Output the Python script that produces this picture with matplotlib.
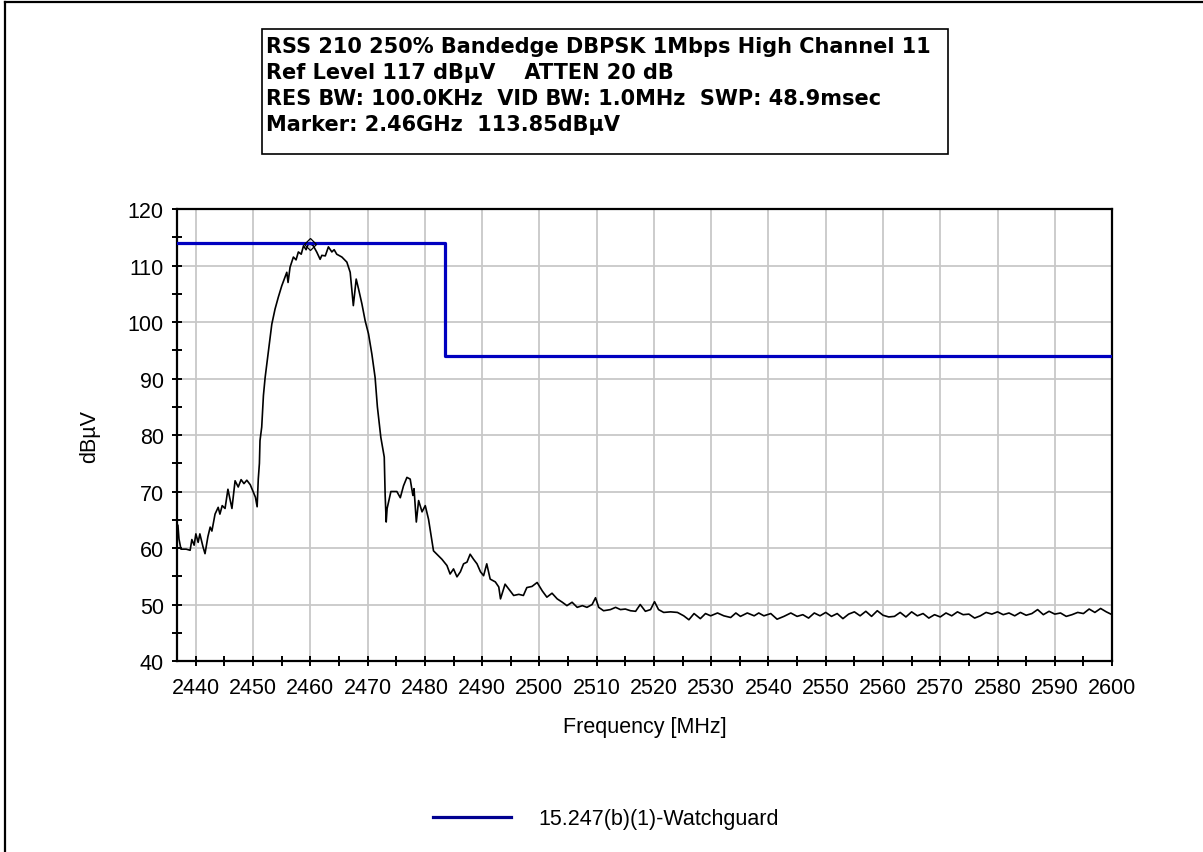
import matplotlib
matplotlib.use("Agg")
from matplotlib import pyplot as plt
from matplotlib.patches import Rectangle
from matplotlib.lines import Line2D
import numpy as np

freq_mhz = [
    2436.87, 2437.05, 2437.4, 2438.3, 2439.0, 2439.3, 2439.7, 2440.0, 2440.4, 2440.7,
    2441.25, 2441.6, 2442.1, 2442.5, 2442.8, 2443.35, 2443.9, 2444.2, 2444.6, 2445.1,
    2445.6, 2446.0, 2446.3, 2446.85, 2447.4, 2447.9, 2448.4, 2448.9, 2449.5, 2450.0,
    2450.4, 2450.7, 2450.9, 2451.1, 2451.2, 2451.5, 2451.8, 2452.1, 2452.66, 2453.26,
    2453.83, 2454.4, 2455.0, 2455.4, 2455.88, 2456.1, 2456.45, 2457.03, 2457.5, 2457.9,
    2458.4, 2458.8, 2459.25, 2459.65, 2460.0, 2460.5, 2461.1, 2461.7, 2462.0, 2462.6,
    2463.15, 2463.75, 2464.15, 2464.6, 2465.5, 2466.37, 2466.95, 2467.3, 2467.5, 2468.0,
    2468.4, 2469.0, 2469.57, 2470.15, 2470.74, 2471.3, 2471.7, 2472.3, 2472.9, 2473.06,
    2473.24, 2473.4, 2473.64, 2474.06, 2475.1, 2475.7, 2476.26, 2476.86, 2477.43, 2477.9,
    2478.1, 2478.5, 2478.9, 2479.5, 2480.06, 2480.63, 2480.9, 2481.5, 2482.1, 2482.98,
    2483.85, 2484.4, 2485.0, 2485.6, 2486.2, 2486.75, 2487.35, 2487.9, 2488.5, 2489.1,
    2489.7, 2490.25, 2490.8, 2491.4, 2492.3, 2492.9, 2493.2, 2494.0, 2494.9, 2495.5,
    2496.4, 2497.2, 2497.8, 2498.7, 2499.6, 2500.5, 2501.3, 2502.2, 2503.1, 2504.0,
    2504.8, 2505.7, 2506.6, 2507.5, 2508.3, 2509.2, 2509.8, 2510.35, 2511.2, 2512.4,
    2513.3, 2514.15, 2515.0, 2515.9, 2516.8, 2517.6, 2518.5, 2519.4, 2520.1, 2520.8,
    2521.7, 2522.9, 2524.1, 2525.2, 2526.1, 2527.0, 2528.1, 2529.0, 2529.9, 2531.1,
    2532.2, 2533.4, 2534.3, 2535.1, 2536.3, 2537.5, 2538.3, 2539.2, 2540.4, 2541.5,
    2542.7, 2543.9, 2545.0, 2546.0, 2547.0, 2548.0, 2549.0, 2550.0, 2551.0, 2552.0,
    2553.0, 2554.0, 2555.0, 2556.0, 2557.0, 2558.0, 2559.0, 2560.0, 2561.0, 2562.0,
    2563.0, 2564.0, 2565.0, 2566.0, 2567.0, 2568.0, 2569.0, 2570.0, 2571.0, 2572.0,
    2573.0, 2574.0, 2575.0, 2576.0, 2577.0, 2578.0, 2579.0, 2580.0, 2581.0, 2582.0,
    2583.0, 2584.0, 2585.0, 2586.0, 2587.0, 2588.0, 2589.0, 2590.0, 2591.0, 2592.0,
    2593.0, 2594.0, 2595.0, 2596.0, 2597.0, 2598.0, 2599.0, 2600.0,
]
level_dbuv = [
    64.0, 61.6, 59.8, 59.8, 59.6, 61.5, 60.5, 62.5, 61.0, 62.5,
    60.2, 59.0, 62.0, 63.7, 63.0, 66.0, 67.2, 66.0, 67.5, 67.0,
    70.4, 68.5, 67.0, 71.9, 70.8, 72.1, 71.4, 72.0, 71.2, 70.0,
    69.0, 67.3, 72.2, 75.0, 79.0, 81.4, 87.0, 90.2, 94.7, 99.6,
    102.3, 104.4, 106.4, 107.5, 108.8, 107.0, 109.7, 111.5, 111.0, 112.4,
    112.0, 113.5, 112.8, 113.8, 113.85, 113.5, 112.4, 111.1, 111.8, 111.7,
    113.3, 112.4, 112.8, 112.0, 111.5, 110.6, 108.8, 105.0, 102.9, 107.6,
    105.9, 103.2, 100.2, 97.9, 94.3, 90.2, 85.0, 79.6, 76.1, 69.3,
    64.6, 67.0, 68.1, 70.0, 70.0, 68.9, 71.0, 72.5, 72.2, 69.3,
    70.5, 64.6, 68.4, 66.4, 67.5, 65.1, 63.4, 59.5, 58.9, 58.0,
    56.9, 55.4, 56.3, 54.9, 55.8, 57.2, 57.5, 58.9, 58.0, 57.2,
    55.8, 55.1, 57.2, 54.5, 54.0, 53.1, 51.0, 53.6, 52.4, 51.6,
    51.8, 51.6, 53.0, 53.2, 53.9, 52.4, 51.3, 52.0, 51.0, 50.4,
    49.8, 50.4, 49.5, 49.8, 49.5, 50.0, 51.2, 49.5, 48.9, 49.1,
    49.5, 49.1, 49.2, 48.9, 48.8, 50.0, 48.8, 49.1, 50.5, 49.1,
    48.6, 48.7, 48.6, 48.0, 47.3, 48.4, 47.5, 48.4, 48.0, 48.5,
    48.0, 47.7, 48.5, 47.9, 48.5, 48.0, 48.5, 48.0, 48.4, 47.4,
    47.9, 48.5, 47.9, 48.2, 47.6, 48.5, 48.0, 48.6, 47.9, 48.4,
    47.5, 48.3, 48.7, 48.0, 48.8, 47.9, 48.9, 48.1, 47.8, 47.9,
    48.6, 47.8, 48.7, 48.0, 48.4, 47.6, 48.2, 47.8, 48.5, 48.0,
    48.7, 48.2, 48.3, 47.6, 48.0, 48.6, 48.3, 48.7, 48.2, 48.5,
    48.0, 48.6, 48.1, 48.4, 49.1, 48.2, 48.8, 48.3, 48.5, 47.9,
    48.2, 48.6, 48.4, 49.2, 48.6, 49.3, 48.7, 48.2,
]

# limit line 15.247(b)(1)
limit_freq = [2436.7, 2483.5, 2483.5, 2600.0]
limit_level = [114.0, 114.0, 94.0, 94.0]
limit_label = "15.247(b)(1)-Watchguard"

marker_freq = 2460.0
marker_level = 113.85

header_lines = [
    "RSS 210 250% Bandedge DBPSK 1Mbps High Channel 11",
    "Ref Level 117 dB\u00b5V    ATTEN 20 dB",
    "RES BW: 100.0KHz  VID BW: 1.0MHz  SWP: 48.9msec",
    "Marker: 2.46GHz  113.85dB\u00b5V",
]

plt.rcParams['font.family'] = ['Liberation Sans', 'DejaVu Sans']
fs = 15.5

fig = plt.figure(figsize=(12.03, 8.53), dpi=100)
ax = fig.add_axes([0.1471, 0.2239, 0.9244 - 0.1471, 0.7538 - 0.2239])

ax.plot(freq_mhz, level_dbuv, color='black', lw=1.2, zorder=3)
ax.plot(limit_freq, limit_level, color='#0000c0', lw=2.3, label=limit_label, zorder=4)
ax.plot([marker_freq], [marker_level], marker='D', ms=6, mfc='none', mec='black',
        mew=0.9, zorder=5)

ax.set_xlim(2436.7, 2600)
ax.set_ylim(40, 120)
ax.set_xticks(np.arange(2440, 2601, 10))
ax.set_xticks(np.arange(2440, 2601, 5), minor=True)
ax.set_yticks(np.arange(40, 121, 10))
ax.set_yticks(np.arange(40, 121, 5), minor=True)
ax.grid(True, which='major', color='#c8c8c8', lw=1.3)
ax.set_axisbelow(True)
ax.tick_params(which='both', direction='inout', length=7, width=1.4,
               labelsize=fs, color='black')
ax.tick_params(axis='x', pad=8)
ax.tick_params(axis='y', pad=6)
for sp in ax.spines.values():
    sp.set_linewidth(1.6)

ax.set_xlabel("Frequency [MHz]", fontsize=fs, labelpad=13)
ax.set_ylabel("dB\u00b5V", fontsize=fs, labelpad=20)

# header box
fig.patches.append(Rectangle((0.2178, 0.8183), 0.788 - 0.2178, 0.9648 - 0.8183,
                             transform=fig.transFigure, fill=False,
                             edgecolor='black', lw=1.2))
line_y = [47, 73, 99, 125]
for txt, yp in zip(header_lines, line_y):
    fig.text(0.2215, 1 - yp / 853, txt, fontsize=15.0, fontweight='bold',
             family='DejaVu Sans', va='center', ha='left')

# outer frame (left and top only)
fig.add_artist(Line2D([5 / 1203, 5 / 1203], [0, 1 - 3 / 853], color='black', lw=1.6))
fig.add_artist(Line2D([5 / 1203, 1], [1 - 3 / 853, 1 - 3 / 853], color='black', lw=1.6))

leg = fig.legend(loc='center', bbox_to_anchor=(0.504, 0.0387), frameon=False,
                 fontsize=fs, handlelength=3.6, handletextpad=1.3)
leg.get_lines()[0].set_color('#000090')

fig.savefig("out.png", dpi=100)
